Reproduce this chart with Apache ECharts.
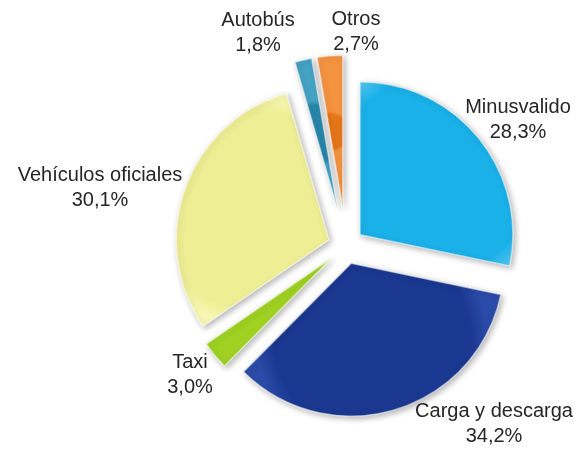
<!DOCTYPE html>
<html>
<head>
<meta charset="utf-8">
<script src="https://cdn.jsdelivr.net/npm/echarts@6/dist/echarts.min.js"></script>
<style>
  html, body { margin: 0; padding: 0; background: #fff; }
  #myChart { width: 582px; height: 453px; }
</style>
</head>
<body>
<div id="myChart"></div>
<script>
var categories = ['Minusvalido', 'Carga y descarga', 'Taxi', 'Vehículos oficiales', 'Autobús', 'Otros'];
var values = [28.3, 34.2, 3.0, 30.1, 1.8, 2.7];
var colors = [
    ['#4cc6f2', '#1ab0e8'],
    ['#2a4ba8', '#1a3890'],
    ['#bde644', '#9fd222'],
    ['#f8f8b4', '#eeee94'],
    ['#45a3c4', '#2887ab'],
    ['#f49440', '#e6761a']
];
// these two thin slices are pulled out further than the rest
var farSlices = ['Autobús', 'Otros'];

function fmt(v) {
    return v.toFixed(1).replace('.', ',') + '%';
}

// centre of each two-line label block
var labelSpots = [[518, 120], [494, 424], [190, 375], [100, 188], [258, 33], [356, 32]];

function sliceData(far) {
    return categories.map(function (name, i) {
        var show = (farSlices.indexOf(name) >= 0) === far;
        return {
            name: name,
            value: values[i],
            selected: true,
            itemStyle: show ? {
                color: new echarts.graphic.RadialGradient(0.5, 0.5, 0.75, [
                    { offset: 0, color: colors[i][1] },
                    { offset: 0.85, color: colors[i][1] },
                    { offset: 1, color: colors[i][0] }
                ])
            } : {
                color: 'rgba(0,0,0,0)',
                borderWidth: 0,
                shadowBlur: 0,
                shadowColor: 'rgba(0,0,0,0)'
            }
        };
    });
}

var labels = categories.map(function (name, i) {
    return {
        type: 'text',
        x: labelSpots[i][0],
        y: labelSpots[i][1],
        style: {
            text: name + '\n' + fmt(values[i]),
            fill: '#262626',
            font: '20px "Liberation Sans", Arial, sans-serif',
            lineHeight: 25,
            align: 'center',
            verticalAlign: 'middle'
        }
    };
});

var baseSeries = {
    type: 'pie',
    center: [346, 246],
    radius: 153,
    startAngle: 90,
    clockwise: true,
    selectedMode: 'multiple',
    silent: true,
    itemStyle: {
        borderColor: 'rgba(255,255,255,0.55)',
        borderWidth: 1.5,
        shadowBlur: 6,
        shadowOffsetX: 2,
        shadowOffsetY: 2,
        shadowColor: 'rgba(0,0,0,0.3)'
    },
    label: { show: false },
    labelLine: { show: false },
    emphasis: { disabled: true }
};

var option = {
    animation: false,
    graphic: labels,
    series: [
        Object.assign({}, baseSeries, { selectedOffset: 18, data: sliceData(false) }),
        Object.assign({}, baseSeries, { selectedOffset: 38, data: sliceData(true) })
    ]
};

var myChart = echarts.init(document.getElementById('myChart'));
myChart.setOption(option);
</script>
</body>
</html>
